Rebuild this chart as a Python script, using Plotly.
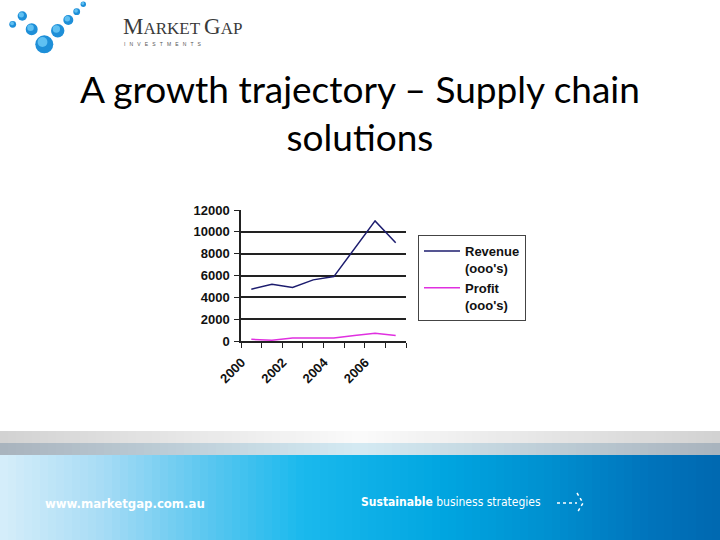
import plotly.graph_objects as go

# ---------------- data ----------------
years = [2000, 2001, 2002, 2003, 2004, 2005, 2006, 2007]
revenue = [4750, 5200, 4900, 5600, 5900, 8500, 11000, 9000]
profit = [150, 80, 280, 280, 280, 500, 700, 500]
label_years = [2000, 2002, 2004, 2006]
y_ticks = [0, 2000, 4000, 6000, 8000, 10000, 12000]

W, H = 720, 540
L, R, T, B = 241, 314, 210, 199
PW, PH = W - L - R, H - T - B
BOTTOM = H - B


def px(x):
    return (x - L) / PW


def py(y):
    return (BOTTOM - y) / PH


def lerp_color(stops, t):
    for i in range(len(stops) - 1):
        t0, c0 = stops[i]
        t1, c1 = stops[i + 1]
        if t0 <= t <= t1:
            f = 0 if t1 == t0 else (t - t0) / (t1 - t0)
            a = [int(c0[k:k + 2], 16) for k in (1, 3, 5)]
            b = [int(c1[k:k + 2], 16) for k in (1, 3, 5)]
            c = [round(a[j] + (b[j] - a[j]) * f) for j in range(3)]
            return "rgb(%d,%d,%d)" % tuple(c)
    return stops[-1][1]


fig = go.Figure()
fig.add_trace(go.Scatter(x=years, y=revenue, mode="lines", name="<b>Revenue<br>(ooo's)</b>",
                         line=dict(color="#1c1c6e", width=1.5)))
fig.add_trace(go.Scatter(x=years, y=profit, mode="lines", name="<b>Profit<br>(ooo's)</b>",
                         line=dict(color="#e030e0", width=1.5)))

shapes = []
# footer gradient bands
blue_stops = [(0, "#d6eefa"), (0.14, "#a8dcf5"), (0.28, "#5fc8f0"), (0.42, "#1ab9ed"),
              (0.62, "#00a5e0"), (0.76, "#0090d0"), (0.9, "#0074bc"), (1, "#0068b0")]
gray_top = [(0, "#d2d2d2"), (0.5, "#fafafa"), (1, "#d2d2d2")]
gray_bot = [(0, "#a9b3bd"), (0.5, "#d3eaf3"), (1, "#a9b3bd")]
step = 8
for x0 in range(0, W, step):
    t = (x0 + step / 2) / W
    for (y0, y1, stops) in [(431, 443, gray_top), (443, 456, gray_bot), (455, 541, blue_stops)]:
        shapes.append(dict(type="rect", xref="paper", yref="paper",
                           x0=px(x0), x1=px(x0 + step + 1), y0=py(y1), y1=py(y0),
                           fillcolor=lerp_color(stops, t), line=dict(width=0), layer="below"))

# logo spheres
spheres = [(12.7, 24.3, 3.4), (22.3, 16, 4.7), (31.7, 29.3, 6), (44.3, 44.3, 9),
           (57.7, 30.7, 6.7), (68.3, 20, 5), (76.7, 11.7, 3.4), (83.3, 4.2, 2.7)]
for cx, cy, r in spheres:
    shapes.append(dict(type="circle", xref="paper", yref="paper",
                       x0=px(cx - r), x1=px(cx + r), y0=py(cy + r), y1=py(cy - r),
                       fillcolor="#1e8fd8", line=dict(width=0)))
    hr = r * 0.55
    hx, hy = cx - r * 0.2, cy - r * 0.25
    shapes.append(dict(type="circle", xref="paper", yref="paper",
                       x0=px(hx - hr), x1=px(hx + hr), y0=py(hy + hr), y1=py(hy - hr),
                       fillcolor="#5fc0f2", line=dict(width=0)))

# footer arrow
shapes.append(dict(type="line", xref="paper", yref="paper", x0=px(557), x1=px(577),
                   y0=py(503), y1=py(503), line=dict(color="white", width=1.5, dash="dot")))
shapes.append(dict(type="path", xref="paper", yref="paper",
                   path="M %f,%f L %f,%f L %f,%f" % (px(577), py(493), px(583), py(503), px(577), py(513)),
                   line=dict(color="white", width=1.5, dash="dot")))

annotations = [
    dict(text="A growth trajectory – Supply chain<br>solutions", x=px(360), y=py(112),
         xref="paper", yref="paper", showarrow=False, xanchor="center", yanchor="middle",
         font=dict(family="Lato", size=37, color="#000000")),
    dict(text="<span style='font-size:23px'>M</span>ARKET <span style='font-size:23px'>G</span>AP",
         x=px(121), y=py(27), xref="paper", yref="paper", showarrow=False,
         xanchor="left", yanchor="middle",
         font=dict(family="Liberation Serif", size=17, color="#3a3a3a")),
    dict(text="I   N   V   E   S   T   M   E   N   T   S", x=px(122), y=py(44), xref="paper", yref="paper",
         showarrow=False, xanchor="left", yanchor="middle",
         font=dict(family="Liberation Sans", size=5, color="#555555")),
    dict(text="<b>www.marketgap.com.au</b>", x=px(43), y=py(503), xref="paper", yref="paper",
         showarrow=False, xanchor="left", yanchor="middle",
         font=dict(family="DejaVu Sans Condensed", size=13, color="white")),
    dict(text="<b>Sustainable</b> business strategies", x=px(359), y=py(502), xref="paper", yref="paper",
         showarrow=False, xanchor="left", yanchor="middle",
         font=dict(family="DejaVu Sans Condensed", size=12, color="white")),
]

fig.update_layout(
    width=W, height=H,
    margin=dict(l=L, r=R, t=T, b=B, pad=0),
    paper_bgcolor="white", plot_bgcolor="white",
    shapes=shapes, annotations=annotations,
    showlegend=True,
    legend=dict(x=px(418), y=py(235), xanchor="left", yanchor="top", valign="top",
                bordercolor="#444444", borderwidth=1, bgcolor="white",
                font=dict(family="Arial", size=13, color="#111111"),
                itemwidth=36, tracegroupgap=0),
    xaxis=dict(range=[1999.5, 2007.5], tickvals=[y - 0.48 for y in label_years],
               ticktext=["<b>%d</b>" % y for y in label_years], tickangle=-45,
               ticks="", showgrid=False, zeroline=False, ticklabelstandoff=7,
               showline=True, linecolor="#222222", linewidth=1.5,
               tickfont=dict(family="Arial", size=13, color="#111111"),
               minor=dict(tick0=1999.5, dtick=1, ticks="outside", ticklen=5,
                          tickcolor="#222222", showgrid=False)),
    yaxis=dict(range=[0, 12000], tickvals=y_ticks, ticktext=["<b>%d</b>" % v for v in y_ticks],
               ticks="outside", ticklen=5,
               tickcolor="#222222", showgrid=True, gridcolor="#222222", gridwidth=1.5,
               zeroline=False, showline=True, linecolor="#222222", linewidth=1.5,
               tickfont=dict(family="Arial", size=13, color="#111111"),
               ticklabelstandoff=2),
)

fig.write_html("out.html", config={"displayModeBar": False},
               post_script="document.body.style.margin='0';document.body.style.overflow='hidden';")
